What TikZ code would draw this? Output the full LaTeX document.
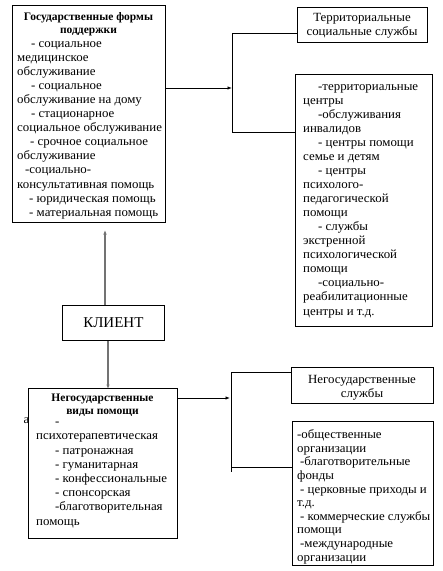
\documentclass[tikz,border=0pt]{standalone}
\usepackage{fontspec}
\setmainfont[FakeStretch=1.03]{Liberation Serif}
\newfontfamily\hfont{Liberation Serif}
\usetikzlibrary{arrows.meta}
\begin{document}
\begin{tikzpicture}[x=1pt,y=-1pt,
  box/.style={draw, line width=0.8pt, fill=white, anchor=north west, inner sep=0pt},
  txt/.style={anchor=north west, inner sep=0pt, align=left,
    font=\fontsize{12.5}{#1}\selectfont},
  ctxt/.style={anchor=north, inner sep=0pt, align=center,
    font=\fontsize{12.5}{14}\selectfont},
  head/.style={anchor=north, inner sep=0pt, align=center,
    font=\hfont\bfseries\fontsize{11.5}{#1}\selectfont},
  line/.style={line width=0.8pt},
  arr/.style={line width=0.8pt, -{Latex[length=4.5pt,width=3.5pt]}},
  garr/.style={line width=1.3pt, draw=black!55, -{Latex[length=4.5pt,width=3.5pt]}, shorten >=-1pt}
]
\useasboundingbox (0,0) rectangle (443,571);

% ---- top-left box
\node[box, minimum width=153pt, minimum height=217pt] (b1) at (12,5) {};
\node[head=13.5pt] (b1h) at (88.5,12) {Государственные формы\\поддержки};
\node[txt=14.1pt] (b1t) at (17,41) {%
\hspace*{14pt}- социальное\\
медицинское\\
обслуживание\\
\hspace*{14pt}- социальное\\
обслуживание на дому\\
\hspace*{14pt}- стационарное\\
социальное обслуживание\\
\hspace*{13pt}- срочное социальное\\
обслуживание\\
\hspace*{8pt}-социально-\\
консультативная помощь\\
\hspace*{12pt}- юридическая помощь\\
\hspace*{12pt}- материальная помощь};

% ---- territorial services
\node[box, minimum width=130pt, minimum height=35pt] (terr) at (297,7) {};
\node[ctxt] (terrt) at (362,13.5) {Территориальные\\социальные службы};

% ---- big right box
\node[box, minimum width=137pt, minimum height=252pt] (bigr) at (295,74) {};
\node[txt=14.06pt] (bigrt) at (303,84) {%
\hspace*{15pt}-территориальные\\
центры\\
\hspace*{15pt}-обслуживания\\
инвалидов\\
\hspace*{15pt}- центры помощи\\
семье и детям\\
\hspace*{15pt}- центры\\
психолого-\\
педагогической\\
помощи\\
\hspace*{15pt}- службы\\
экстренной\\
психологической\\
помощи\\
\hspace*{15pt}-социально-\\
реабилитационные\\
центры и т.д.};

% ---- top bracket and arrow
\coordinate (br1) at (232,88);
\coordinate (bt1) at (232,33);
\coordinate (bb1) at (232,132);
\draw[arr] (b1.east |- br1) -- (br1);
\draw[line] (bt1) -- (bb1);
\draw[line] (bt1) -- (terr.west |- bt1);
\draw[line] (bb1) -- (bigr.west |- bb1);

% ---- client
\node[box, minimum width=102pt, minimum height=35pt] (kl) at (62,305) {};
\node[font=\hfont\fontsize{15}{17}\selectfont, inner sep=0pt] (klt) at (kl.center) {КЛИЕНТ};

% ---- stray letter
\node[font=\fontsize{12.5}{14}\selectfont, inner sep=0pt] (stray) at (26.5,421) {а};

% ---- non-state box
\node[box, minimum width=149pt, minimum height=150pt] (neg) at (28,388) {};
\node[head=13pt] (negh) at (102.5,393.5) {Негосударственные\\виды помощи};
\node[txt=14.2pt] (negt) at (36,422) {%
\hspace*{19pt}-\\
психотерапевтическая\\
\hspace*{19pt}- патронажная\\
\hspace*{19pt}- гуманитарная\\
\hspace*{19pt}- конфессиональные\\
\hspace*{19pt}- спонсорская\\
\hspace*{19pt}-благотворительная\\
помощь};

% ---- connectors from client
\coordinate (ku) at (105,231);
\coordinate (kd) at (108,0);
\draw[garr] (kl.north -| ku) -- (ku);
\draw[garr] (kl.south -| kd) -- (neg.north -| kd);

% ---- non-state services
\node[box, minimum width=142pt, minimum height=36pt] (nsv) at (291,367) {};
\node[ctxt] (nsvt) at (362,375) {Негосударственные\\службы};

% ---- bottom right list
\node[box, minimum width=141pt, minimum height=144pt] (brl) at (292,421) {};
\node[txt=13.6pt] (brlt) at (297,429.5) {%
-общественные\\
организации\\
\hspace*{3pt}-благотворительные\\
фонды\\
\hspace*{3pt}- церковные приходы и\\
т.д.\\
\hspace*{3pt}- коммерческие службы\\
помощи\\
\hspace*{3pt}-международные\\
организации};

% ---- bottom bracket and arrow
\coordinate (br2) at (230,398);
\coordinate (bt2) at (231,372);
\coordinate (bb2) at (231,472);
\coordinate (bh2) at (231,467);
\draw[arr] (neg.east |- br2) -- (br2);
\draw[line] (bt2) -- (bb2);
\draw[line] (bt2) -- (nsv.west |- bt2);
\draw[line] (bh2) -- (brl.west |- bh2);
\end{tikzpicture}
\end{document}
